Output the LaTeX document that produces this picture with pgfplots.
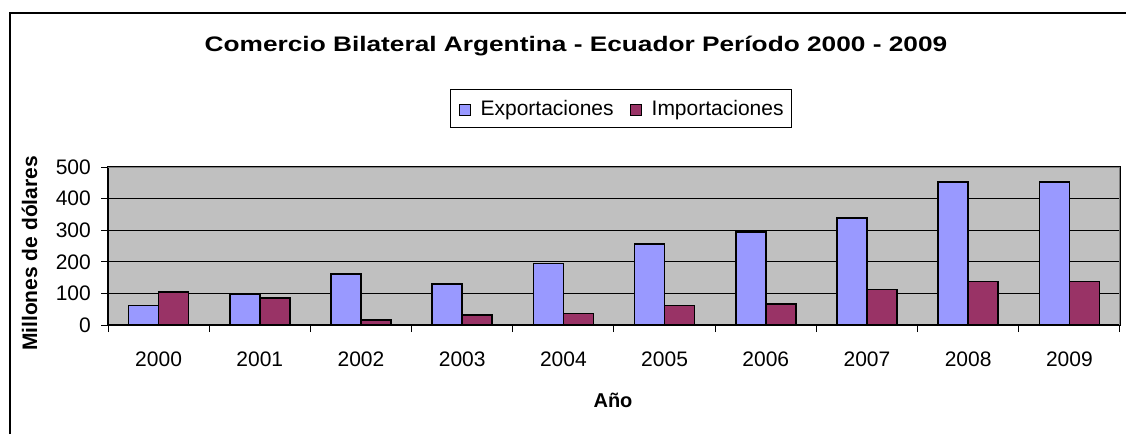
\documentclass[border=0pt]{standalone}
\usepackage{pgfplots}
\pgfplotsset{compat=1.18}
\usepackage{fontspec}
\setmainfont{Liberation Sans}
\definecolor{expc}{HTML}{9999FF}
\definecolor{impc}{HTML}{993366}
\definecolor{bgc}{HTML}{C0C0C0}
\begin{document}
\begin{tikzpicture}[x=1pt,y=1pt]
\path[use as bounding box] (0,0) rectangle (1126,434);
\draw[line width=2pt] (10,0) -- (10,421) -- (1126,421);
\node[font=\fontsize{21}{24}\selectfont\bfseries, anchor=base, xscale=1.25] at (576,382) {Comercio Bilateral Argentina - Ecuador Período 2000 - 2009};
\node[font=\fontsize{21}{24}\selectfont\bfseries, rotate=90, anchor=base] at (37,180.5) {Millones de dólares};
\node[font=\fontsize{20}{24}\selectfont\bfseries, anchor=base] at (613,27) {Año};
\begin{axis}[
  at={(108pt,109pt)}, anchor=south west,
  scale only axis, width=1012pt, height=158pt,
  ybar=0pt, bar width=30pt,
  xmin=-0.5, xmax=9.5, ymin=0, ymax=500,
  xtick={-0.5,0.5,...,9.5},
  xticklabels=\empty,
  extra x ticks={0,1,2,3,4,5,6,7,8,9},
  extra x tick labels={2000,2001,2002,2003,2004,2005,2006,2007,2008,2009},
  extra x tick style={major tick length=0pt, xticklabel style={anchor=base, yshift=-41pt}},
  ytick={0,100,...,500},
  xtick pos=bottom, ytick pos=left,
  tick align=outside,
  major tick length=7pt,
  every tick/.style={black, line width=1pt},
  ymajorgrids, grid style={black, line width=1pt},
  axis background/.style={fill=bgc},
  axis line style={black, line width=1.3pt},
  /pgf/number format/assume math mode=true,
  ticklabel style={font=\fontsize{21}{24}\selectfont, inner sep=0pt},
  yticklabel style={anchor=east, xshift=-10pt},
  legend style={at={(0.507,1.37)}, anchor=center, draw=black, line width=1pt,
    font=\fontsize{21}{24}\selectfont, legend columns=2,
    inner xsep=8pt, inner ysep=11pt,
    nodes={inner sep=0pt},
    /tikz/every odd column/.append style={column sep=10pt},
    /tikz/every even column/.append style={column sep=16pt}},
  legend image code/.code={\draw[#1, line width=1pt] (0pt,-6.5pt) rectangle (11pt,4.5pt);},
  after end axis/.code={\draw[gray, line width=1pt] (rel axis cs:0,1) -- (rel axis cs:1,1) -- (rel axis cs:1,0);},
]
\addplot[fill=expc, draw=black, line width=1.5pt] coordinates {(0,61) (1,98) (2,162) (3,130) (4,194) (5,257) (6,295) (7,339) (8,453) (9,453)};
\addplot[fill=impc, draw=black, line width=1.5pt] coordinates {(0,105) (1,86) (2,16) (3,31) (4,36) (5,62) (6,67) (7,112) (8,137) (9,137)};
\legend{Exportaciones, Importaciones}
\end{axis}
\end{tikzpicture}
\end{document}
